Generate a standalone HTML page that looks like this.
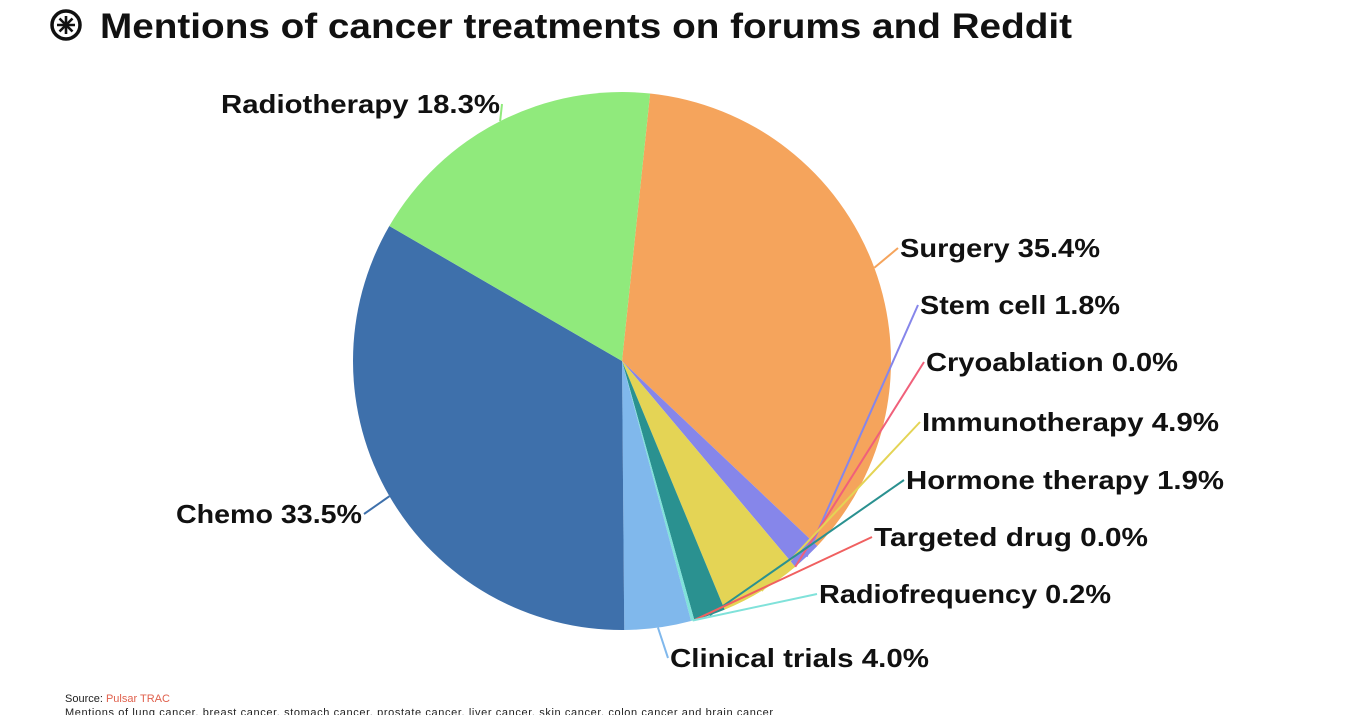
<!DOCTYPE html>
<html><head><meta charset="utf-8">
<style>
html,body{margin:0;padding:0;background:#fff;}
body{width:1366px;height:715px;overflow:hidden;position:relative;font-family:"Liberation Sans",sans-serif;}
svg{position:absolute;left:0;top:0;}
</style></head>
<body>
<svg id="chart" width="1366" height="715" viewBox="0 0 1366 715">
  <g>
    <circle cx="66" cy="25" r="14" fill="none" stroke="#111" stroke-width="3.5"/>
    <g stroke="#111" stroke-width="2.6">
      <line x1="66" y1="16" x2="66" y2="34"/><line x1="57" y1="25" x2="75" y2="25"/>
      <line x1="59.5" y1="18.5" x2="72.5" y2="31.5"/><line x1="72.5" y1="18.5" x2="59.5" y2="31.5"/>
    </g>
  </g>
  <text x="100" y="38" font-size="35" font-weight="bold" fill="#111" textLength="972" lengthAdjust="spacingAndGlyphs">Mentions of cancer treatments on forums and Reddit</text>
  <g id="slices"></g>
  <g id="leaders"></g>
  <g id="labels"></g>
  <text x="65" y="702" font-size="11" fill="#222">Source: <tspan fill="#e0604c">Pulsar TRAC</tspan></text>
  <text x="65" y="716" font-size="11" fill="#222" textLength="708">Mentions of lung cancer, breast cancer, stomach cancer, prostate cancer, liver cancer, skin cancer, colon cancer and brain cancer</text>
</svg>
<script>
const categories = ["Surgery","Stem cell","Cryoablation","Immunotherapy","Hormone therapy","Targeted drug","Radiofrequency","Clinical trials","Chemo","Radiotherapy"];
const values = [35.4,1.8,0.0,4.9,1.9,0.0,0.2,4.0,33.5,18.3];
const valueLabels = ["35.4%","1.8%","0.0%","4.9%","1.9%","0.0%","0.2%","4.0%","33.5%","18.3%"];
const colors = ["#F5A45C","#8686EA","#F0607A","#E4D455","#2A9190","#F06060","#80E2DA","#80B8EC","#3E70AB","#90EA7C"];
// label layout: x, y center, anchor, text width
const labelPos = [[900,248,"start",200],[920,305,"start",200],[926,362,"start",252],[922,422,"start",297],[906,480,"start",318],[874,537,"start",274],[819,594,"start",292],[670,658,"start",259],[362,514,"end",186],[500,104,"end",279]];

const NS="http://www.w3.org/2000/svg";
const cx=622, cy=361, r=269, startDeg=6;
const total=values.reduce((a,b)=>a+b,0);
function pt(deg,rad){const a=deg*Math.PI/180;return [cx+rad*Math.sin(a), cy-rad*Math.cos(a)];}
const gS=document.getElementById('slices'), gL=document.getElementById('leaders'), gT=document.getElementById('labels');
let ang=startDeg;
values.forEach((v,i)=>{
  const sweep=v/total*360;
  const a0=ang,a1=ang+sweep,mid=ang+sweep/2;
  ang=a1;
  if(sweep>0){
    const p0=pt(a0,r),p1=pt(a1,r);
    const path=document.createElementNS(NS,'path');
    path.setAttribute('d',`M${cx},${cy}L${p0[0]},${p0[1]}A${r},${r} 0 ${sweep>180?1:0} 1 ${p1[0]},${p1[1]}Z`);
    path.setAttribute('fill',colors[i]);
    
    
    gS.appendChild(path);
  }
  const m=pt(mid,r);
  const lp=labelPos[i];
  const ex = lp[2]==="start" ? lp[0]-2 : lp[0]+2;
  const line=document.createElementNS(NS,'path');
  line.setAttribute('d',`M${m[0]},${m[1]}L${ex},${lp[1]}`);
  line.setAttribute('fill','none');
  line.setAttribute('stroke',colors[i]);
  line.setAttribute('stroke-width','2');
  
  
  gL.appendChild(line);
  const t=document.createElementNS(NS,'text');
  t.setAttribute('x',lp[0]);t.setAttribute('y',lp[1]+9);
  t.setAttribute('text-anchor',lp[2]);
  t.setAttribute('font-size','26');t.setAttribute('font-weight','bold');t.setAttribute('fill','#111');
  t.setAttribute('textLength',lp[3]);t.setAttribute('lengthAdjust','spacingAndGlyphs');
  t.textContent=categories[i]+' '+valueLabels[i];
  
  
  gT.appendChild(t);
});
</script>
</body></html>
